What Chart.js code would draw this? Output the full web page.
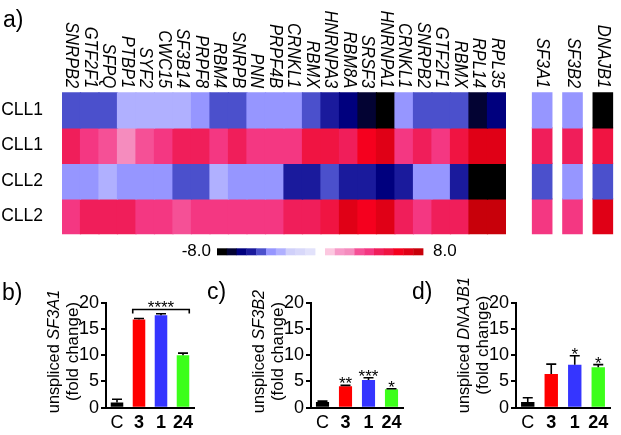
<!DOCTYPE html>
<html>
<head>
<meta charset="utf-8">
<script src="https://cdn.jsdelivr.net/npm/chart.js@4.4.1/dist/chart.umd.min.js"></script>
<style>
  body { margin: 0; background: #fff; }
  #wrap { position: relative; width: 621px; height: 435px; overflow: hidden; }
  canvas { position: absolute; }
</style>
</head>
<body>
<div id="wrap">
  <canvas id="heatMain" width="512" height="265" style="left:0;top:0"></canvas>
  <canvas id="heatSide" width="109" height="265" style="left:512px;top:0"></canvas>
  <canvas id="chartB" width="205" height="165" style="left:0;top:270px"></canvas>
  <canvas id="chartC" width="205" height="165" style="left:205px;top:270px"></canvas>
  <canvas id="chartD" width="211" height="165" style="left:410px;top:270px"></canvas>
</div>
<script>
// ====== Heatmap data (fold change, colour scale -8 .. 8) ======
const genes = ['SNRPB2', 'GTF2F1', 'SFPQ', 'PTBP1', 'SYF2', 'CWC15', 'SF3B14', 'PRPF8', 'RBM4', 'SNRPB', 'PNN', 'PRPF4B',
               'CRNKL1', 'RBMX', 'HNRNPA3', 'RBM8A', 'SRSF3', 'HNRNPA1', 'CRNKL1', 'SNRPB2', 'GTF2F1', 'RBMX', 'RPL14', 'RPL35'];
const sideGenes = ['SF3A1', 'SF3B2', 'DNAJB1'];
const rowLabels = ['CLL1', 'CLL1', 'CLL2', 'CLL2'];

const row1 = [-4.4, -4.4, -4.4, -2.8, -2.8, -2.8, -2.8, -3.6, -4.4, -4.4, -3.6, -3.6, -3.6, -4.4, -5.2, -6.0, -6.8, -7.6, -3.6, -4.4, -4.4, -4.4, -6.8, -6.0];
const row2 = [4.4, 3.6, 2.8, 2.0, 2.8, 3.6, 4.4, 4.4, 3.6, 4.4, 3.6, 3.6, 3.6, 5.2, 5.2, 4.4, 6.0, 6.8, 3.6, 4.4, 3.6, 5.2, 6.8, 6.8];
const row3 = [-3.6, -3.6, -2.8, -3.6, -3.6, -3.6, -4.4, -4.4, -2.8, -3.6, -3.6, -3.6, -5.2, -5.2, -4.4, -5.2, -5.2, -6.0, -5.2, -3.6, -3.6, -5.2, -7.6, -7.6];
const row4 = [3.6, 4.4, 4.4, 4.4, 3.6, 3.6, 2.8, 3.6, 3.6, 3.6, 3.6, 3.6, 4.4, 4.4, 5.2, 6.8, 6.0, 6.8, 4.4, 3.6, 4.4, 4.4, 7.6, 7.6];

const side1 = [-3.6, -3.6, -7.6];
const side2 = [4.4, 4.4, 5.2];
const side3 = [-4.4, -3.6, -4.4];
const side4 = [3.6, 3.6, 6.8];

const scaleMin = -8;
const scaleMax = 8;
const blues = ['#000000', '#030333', '#00007e', '#1a1a9c', '#4b50cc', '#9696ff', '#b0b0ff', '#d0d0fa', '#d8d8fa', '#e2e2fb'];
const reds = ['#fcc8e0', '#f79ac8', '#f58cbe', '#f55096', '#f43782', '#f01e5a', '#f01442', '#f5001e', '#e00016', '#c8000a'];

// ====== Bar chart data ======
const groups = ['C', '3', '1', '24'];
const barColors = ['#000000', '#ff0000', '#3535ff', '#3cff1a'];
const sf3a1Mean = [1.0, 16.8, 17.6, 10.0];
const sf3a1Err = [0.6, 0.2, 0.3, 0.4];
const sf3b2Mean = [1.1, 4.1, 5.3, 3.5];
const sf3b2Err = [0.15, 0.15, 0.4, 0.1];
const sf3b2Stars = ['', '**', '***', '*'];
const dnajb1Mean = [1.1, 6.4, 8.2, 7.7];
const dnajb1Err = [0.8, 1.9, 1.7, 0.5];
const dnajb1Stars = ['', '', '*', '*'];
const yTicks = [0, 5, 10, 15, 20];

const FONT = "Arial, 'Liberation Sans', sans-serif";
Chart.defaults.font.family = FONT;
Chart.defaults.color = '#000';

function colorFor(v) {
    const steps = blues.concat(reds);
    let i = Math.floor((v - scaleMin) / (scaleMax - scaleMin) * steps.length);
    i = Math.max(0, Math.min(steps.length - 1, i));
    return steps[i];
}

// ====== Plugin: texts, colour bar, error bars ======
const figureText = {
    id: 'figureText',
    afterDatasetsDraw(chart, args, opts) {
        const ctx = chart.ctx;
        const ys = chart.scales.y;
        const meta = chart.getDatasetMeta(0);
        ctx.save();
        ctx.strokeStyle = '#000';
        ctx.fillStyle = '#000';
        ctx.lineWidth = 1.6;
        if (opts.errors) {
            const means = chart.data.datasets[0].data;
            meta.data.forEach((bar, i) => {
                const top = ys.getPixelForValue(means[i] + opts.errors[i]);
                ctx.beginPath();
                ctx.moveTo(bar.x, bar.y);
                ctx.lineTo(bar.x, top);
                ctx.moveTo(bar.x - 5, top);
                ctx.lineTo(bar.x + 5, top);
                ctx.stroke();
                if (opts.stars && opts.stars[i]) {
                    ctx.font = '17px ' + FONT;
                    ctx.textAlign = 'center';
                    ctx.textBaseline = 'alphabetic';
                    ctx.fillText(opts.stars[i], bar.x, top + 4);
                }
            });
        }
        if (opts.bracket) {
            const b = opts.bracket;
            const a = meta.data[b.from], z = meta.data[b.to];
            const x1 = a.x - a.width / 2, x2 = z.x + z.width / 2;
            const y = ys.getPixelForValue(b.value);
            ctx.beginPath();
            ctx.moveTo(x1, y + 4); ctx.lineTo(x1, y); ctx.lineTo(x2, y); ctx.lineTo(x2, y + 4);
            ctx.stroke();
            ctx.font = '17px ' + FONT;
            ctx.textAlign = 'center';
            ctx.textBaseline = 'alphabetic';
            ctx.fillText(b.text, (x1 + x2) / 2, y + 3.5);
        }
        ctx.restore();
    },
    afterDraw(chart, args, opts) {
        const ctx = chart.ctx;
        const area = chart.chartArea;
        ctx.save();
        ctx.fillStyle = '#000';
        if (opts.panel) {
            ctx.font = '23px ' + FONT;
            ctx.textAlign = 'left';
            ctx.textBaseline = 'alphabetic';
            ctx.fillText(opts.panel, opts.panelX, opts.panelY);
        }
        if (opts.columnLabels) {
            const xs = chart.scales.x;
            ctx.font = 'italic 18px ' + FONT;
            ctx.textAlign = 'right';
            ctx.textBaseline = 'middle';
            chart.data.labels.forEach((lab, i) => {
                ctx.save();
                ctx.translate(xs.getPixelForValue(i), area.top - 4);
                ctx.rotate(Math.PI / 2);
                ctx.scale(0.92, 1);
                ctx.fillText(lab, 0, 0);
                ctx.restore();
            });
        }
        if (opts.colorbar) {
            const steps = blues.concat(reds);
            const x0 = area.left + 155, y0 = area.bottom + 14, w = 9.8, h = 7, gap = 10;
            steps.forEach((c, i) => {
                const x = x0 + i * w + (i >= blues.length ? gap : 0);
                ctx.fillStyle = c;
                ctx.fillRect(x, y0, w + 0.4, h);
            });
            ctx.fillStyle = '#000';
            ctx.font = '17px ' + FONT;
            ctx.textBaseline = 'middle';
            ctx.textAlign = 'right';
            ctx.fillText(scaleMin.toFixed(1), x0 - 6, y0 + h / 2);
            ctx.textAlign = 'left';
            ctx.fillText(scaleMax.toFixed(1), x0 + steps.length * w + gap + 10, y0 + h / 2);
        }
        if (opts.yTitle) {
            const t = opts.yTitle;
            ctx.font = '17px ' + FONT;
            const wPre = ctx.measureText(t.pre).width;
            ctx.font = 'italic 17px ' + FONT;
            const total = wPre + ctx.measureText(t.gene).width;
            const start = area.bottom + 5.5;
            ctx.textBaseline = 'middle';
            ctx.save();
            ctx.translate(area.left - 52, start);
            ctx.rotate(-Math.PI / 2);
            ctx.scale(0.96, 1);
            ctx.textAlign = 'left';
            ctx.font = '17px ' + FONT;
            ctx.fillText(t.pre, 0, 0);
            ctx.font = 'italic 17px ' + FONT;
            ctx.fillText(t.gene, wPre, 0);
            ctx.restore();
            ctx.save();
            ctx.translate(area.left - 33, start - total * 0.96 / 2);
            ctx.rotate(-Math.PI / 2);
            ctx.textAlign = 'center';
            ctx.font = '17px ' + FONT;
            ctx.fillText(t.line2, 0, 0);
            ctx.restore();
        }
        ctx.restore();
    }
};

// ====== Heatmaps ======
function heatDatasets(rows) {
    return rows.map(r => ({
        data: r.map(() => 1),
        backgroundColor: r.map(colorFor),
        borderWidth: 0,
        inflateAmount: 0.6,
        barPercentage: 1,
        categoryPercentage: 1
    }));
}

new Chart(document.getElementById('heatMain'), {
    type: 'bar',
    data: { labels: genes, datasets: heatDatasets([row1, row2, row3, row4]) },
    plugins: [figureText],
    options: {
        responsive: false,
        animation: false,
        layout: { padding: { top: 92.3, bottom: 30.7, right: 6, left: 0 } },
        plugins: {
            legend: { display: false },
            tooltip: { enabled: false },
            figureText: { columnLabels: true, colorbar: true, panel: 'a)', panelX: 3, panelY: 27 }
        },
        scales: {
            x: { display: false, stacked: true },
            y: { display: false, stacked: true, min: 0, max: rowLabels.length, reverse: true },
            rows: {
                type: 'category',
                position: 'left',
                labels: rowLabels,
                offset: true,
                grid: { display: false },
                border: { display: false },
                ticks: { font: { size: 17.5 }, padding: 11 },
                afterFit: s => { s.width = 62; }
            }
        }
    }
});

new Chart(document.getElementById('heatSide'), {
    type: 'bar',
    data: {
        labels: sideGenes,
        datasets: heatDatasets([side1, side2, side3, side4]).map(d => Object.assign(d, { categoryPercentage: 0.64 }))
    },
    plugins: [figureText],
    options: {
        responsive: false,
        animation: false,
        layout: { padding: { top: 92.3, bottom: 30.7, right: 3, left: 15 } },
        plugins: {
            legend: { display: false },
            tooltip: { enabled: false },
            figureText: { columnLabels: true }
        },
        scales: {
            x: { display: false, stacked: true },
            y: { display: false, stacked: true, min: 0, max: rowLabels.length, reverse: true }
        }
    }
});

// ====== Bar charts b, c, d ======
function barChart(id, means, opts, padRight) {
    return new Chart(document.getElementById(id), {
        type: 'bar',
        data: {
            labels: groups,
            datasets: [{
                data: means,
                backgroundColor: barColors,
                borderWidth: 0,
                barPercentage: 0.57,
                categoryPercentage: 1
            }]
        },
        plugins: [figureText],
        options: {
            responsive: false,
            animation: false,
            layout: { padding: { top: 32.7, right: padRight, bottom: 0, left: 0 } },
            plugins: {
                legend: { display: false },
                tooltip: { enabled: false },
                figureText: opts
            },
            scales: {
                x: {
                    grid: { display: false, drawTicks: false },
                    border: { display: true, color: '#000', width: 2 },
                    ticks: {
                        padding: 5,
                        autoSkip: false,
                        maxRotation: 0,
                        minRotation: 0,
                        font: c => ({ size: 18, weight: c.index === 0 ? 'normal' : 'bold' })
                    },
                    afterFit: s => { s.height = 27.3; }
                },
                y: {
                    min: yTicks[0],
                    max: yTicks[yTicks.length - 1],
                    afterBuildTicks: s => { s.ticks = yTicks.map(v => ({ value: v })); },
                    grid: { display: true, drawOnChartArea: false, drawTicks: true, tickLength: 5, lineWidth: 2, color: '#000' },
                    border: { display: true, color: '#000', width: 2 },
                    ticks: { padding: 2, font: { size: 18 } },
                    afterFit: s => { s.width = 106; }
                }
            }
        }
    });
}

barChart('chartB', sf3a1Mean, {
    panel: 'b)', panelX: 2, panelY: 30,
    errors: sf3a1Err,
    bracket: { from: 1, to: 3, value: 18.7, text: '****' },
    yTitle: { pre: 'unspliced ', gene: 'SF3A1', line2: '(fold change)' }
}, 11);

barChart('chartC', sf3b2Mean, {
    panel: 'c)', panelX: 2, panelY: 29,
    errors: sf3b2Err, stars: sf3b2Stars,
    yTitle: { pre: 'unspliced ', gene: 'SF3B2', line2: '(fold change)' }
}, 7);

barChart('chartD', dnajb1Mean, {
    panel: 'd)', panelX: 2, panelY: 29,
    errors: dnajb1Err, stars: dnajb1Stars,
    yTitle: { pre: 'unspliced ', gene: 'DNAJB1', line2: '(fold change)' }
}, 11);
</script>
</body>
</html>
